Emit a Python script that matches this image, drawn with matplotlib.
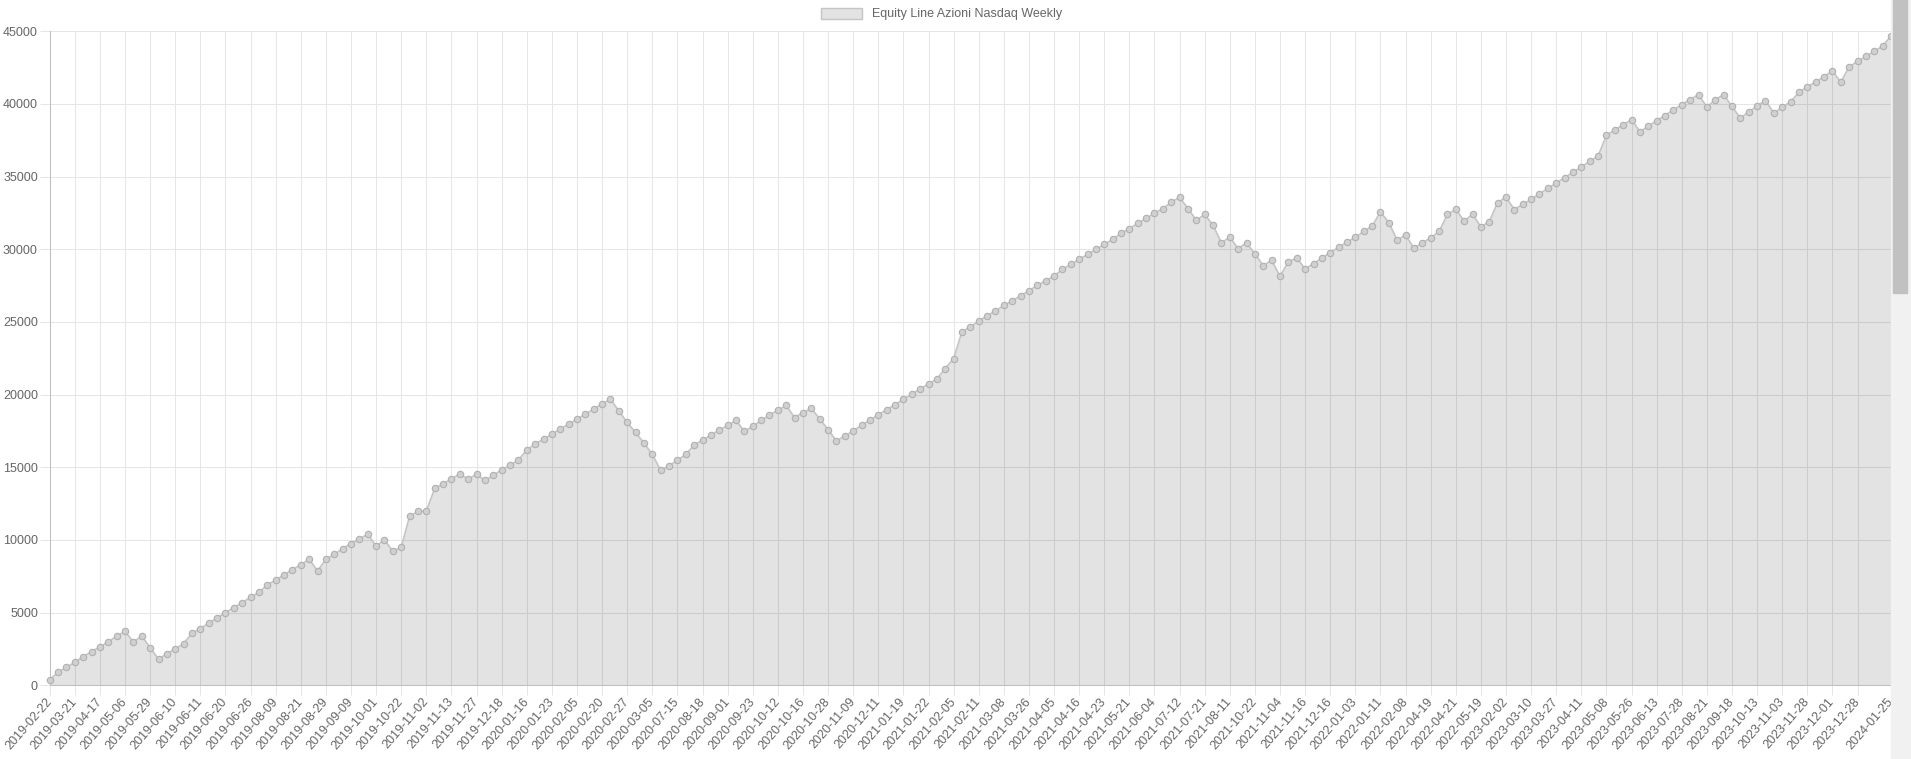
import matplotlib.pyplot as plt
from matplotlib.patches import Patch, Rectangle

plt.rcParams['font.family'] = ['Liberation Sans', 'DejaVu Sans']

# dates shown on the x axis (chart.js skips most labels)
date_labels = [
    "2019-02-22", "2019-03-21", "2019-04-17", "2019-05-06", "2019-05-29", "2019-06-10",
    "2019-06-11", "2019-06-20", "2019-06-26", "2019-08-09", "2019-08-21", "2019-08-29",
    "2019-09-09", "2019-10-01", "2019-10-22", "2019-11-02", "2019-11-13", "2019-11-27",
    "2019-12-18", "2020-01-16", "2020-01-23", "2020-02-05", "2020-02-20", "2020-02-27",
    "2020-03-05", "2020-07-15", "2020-08-18", "2020-09-01", "2020-09-23", "2020-10-12",
    "2020-10-16", "2020-10-28", "2020-11-09", "2020-12-11", "2021-01-19", "2021-01-22",
    "2021-02-05", "2021-02-11", "2021-03-08", "2021-03-26", "2021-04-05", "2021-04-16",
    "2021-04-23", "2021-05-21", "2021-06-04", "2021-07-12", "2021-07-21", "2021-08-11",
    "2021-10-22", "2021-11-04", "2021-11-16", "2021-12-16", "2022-01-03", "2022-01-11",
    "2022-02-08", "2022-04-19", "2022-04-21", "2022-05-19", "2023-02-02", "2023-03-10",
    "2023-03-27", "2023-04-11", "2023-05-08", "2023-05-26", "2023-06-13", "2023-07-28",
    "2023-08-21", "2023-09-18", "2023-10-13", "2023-11-03", "2023-11-28", "2023-12-01",
    "2023-12-28", "2024-01-25",
]

# weekly equity values, one per trade
equity = [
    370, 900, 1240, 1580, 1970, 2320, 2640, 3000, 3370, 3720,
    2980, 3390, 2590, 1790, 2180, 2500, 2870, 3580, 3900, 4290,
    4630, 5000, 5340, 5690, 6060, 6400, 6900, 7250, 7590, 7960,
    8300, 8670, 7870, 8670, 9010, 9400, 9750, 10070, 10390, 9590,
    10000, 9220, 9500, 11620, 11970,
    11990, 13540, 13860, 14200, 14540, 14180, 14520, 14090, 14450, 14820,
    15160, 15500, 16190, 16600, 16940, 17280, 17630, 17970, 18310, 18650,
    19000, 19360, 19680, 18880, 18080, 17400, 16670, 15890, 14790, 15110,
    15480, 15890, 16530, 16870, 17210, 17560, 17880, 18220, 17470, 17810,
    18220, 18590, 18930, 19250,
    18420, 18760, 19060, 18320, 17590, 16810, 17150, 17500, 17890, 18250,
    18600, 18970, 19310, 19680, 20020, 20390, 20730, 21080, 21790, 22480,
    24320, 24660, 25070, 25420, 25760, 26130, 26450, 26800, 27140, 27510,
    27830, 28170, 28610, 28960, 29300, 29640, 29990, 30330, 30680, 31090,
    31410, 31780, 32120, 32470,
    32800, 33230, 33580, 32800, 32000, 32390, 31650, 30440, 30830, 30050,
    30440, 29680, 28880, 29240, 28140, 29130, 29400, 28650, 29010, 29380,
    29770, 30140, 30480, 30830, 31220, 31580, 32570, 31830, 30620, 30990,
    30070, 30440, 30780, 31220, 32390, 32750, 31930, 32410, 31540, 31900,
    33210, 33580, 32730, 33090,
    33430, 33820, 34180, 34550, 34920, 35290, 35660, 36050, 36410, 37840,
    38210, 38550, 38920, 38090, 38460, 38850, 39200, 39590, 39950, 40300,
    40640, 39790, 40280, 40640, 39820, 39030, 39430, 39860, 40230, 39360,
    39770, 40140, 40800, 41170, 41520, 41860, 42280, 41490, 42550, 42920,
    43260, 43610, 43980, 44670,
]

series_name = "Equity Line Azioni Nasdaq Weekly"

W, H = 1911, 759
fig = plt.figure(figsize=(W / 100, H / 100), dpi=100)
ax = fig.add_axes([49.7 / W, 73.7 / H, (1891 - 49.7) / W, (685.3 - 31.2) / H])

grid_col = '#e6e6e6'
fill_col = (0, 0, 0, 0.11)

x = list(range(len(equity)))
ax.fill_between(x, equity, 0, color=fill_col, lw=0, zorder=2)
ax.plot(x, equity, color='#c4c4c4', lw=1.2, marker='o', ms=4.6,
        mfc='#d0d0d0', mec='#b0b0b0', mew=0.8, zorder=3, clip_on=False)

ax.set_xlim(0, len(equity) - 1)
ax.set_ylim(0, 45000)
ax.set_yticks(range(0, 45001, 5000))

# every third point gets a label, plus the last one
tick_pos = [3 * i for i in range(len(date_labels) - 1)] + [len(equity) - 1]
ax.set_xticks(tick_pos)
ax.set_xticklabels(date_labels, rotation=49, ha='right', va='center',
                   rotation_mode='anchor')

ax.grid(True, color=grid_col, alpha=1.0, lw=0.75, zorder=1)
ax.set_axisbelow(True)
for s in ['top', 'right']:
    ax.spines[s].set_visible(False)
for s in ['left', 'bottom']:
    ax.spines[s].set_color('#bfbfbf')
    ax.spines[s].set_linewidth(0.75)

ax.tick_params(axis='both', length=7.5, width=0.75, color=grid_col,
               labelcolor='#666666', labelsize=9)
ax.tick_params(axis='x', pad=3)
ax.tick_params(axis='y', pad=1)

fig.legend(handles=[Patch(facecolor=fill_col, edgecolor='#c4c4c4', linewidth=1)],
           labels=[series_name], loc='center',
           bbox_to_anchor=(941.5 / W, 1 - 14 / H), frameon=False, fontsize=9,
           handlelength=3.33, handleheight=1.0, handletextpad=0.8,
           borderpad=0, labelcolor='#666666')

# browser scrollbar on the right edge
fig.add_artist(Rectangle((1891 / W, 0), 20 / W, 1, transform=fig.transFigure,
                         color='#f1f1f1', zorder=5))
fig.add_artist(Rectangle((1893 / W, 1 - 293 / H), 14 / W, 293 / H,
                         transform=fig.transFigure, color='#c1c1c1', zorder=6))

fig.savefig('out.png', dpi=100)
